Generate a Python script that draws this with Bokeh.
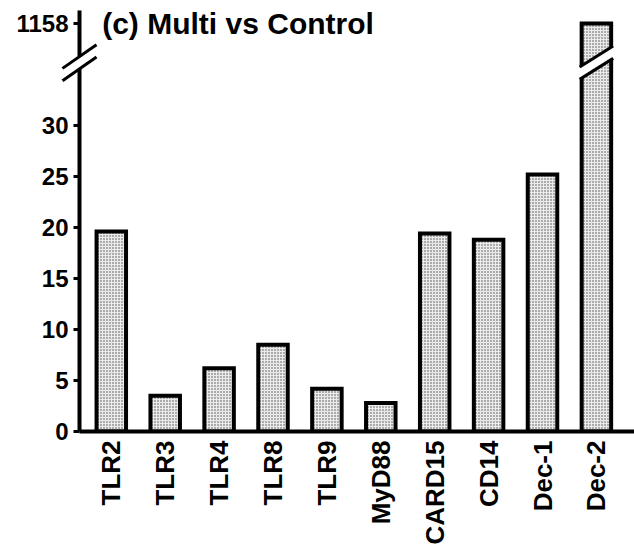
import math
from bokeh.plotting import figure
from bokeh.models import FixedTicker, Label, Range1d
from bokeh.embed import file_html
from bokeh.resources import INLINE

# ---- data ----
genes = ["TLR2", "TLR3", "TLR4", "TLR8", "TLR9", "MyD88", "CARD15", "CD14", "Dec-1", "Dec-2"]
fold_change = [19.6, 3.5, 6.2, 8.5, 4.2, 2.8, 19.4, 18.8, 25.2, 1158]
lower_ticks = [0, 5, 10, 15, 20, 25, 30]
upper_ticks = [1158]
title_text = "(c) Multi vs Control"

# ---- broken-axis mapping (value -> display coordinate) ----
LOWER_MAX = 35.5
UPPER_BASE = 40.0
UPPER_SCALE = 0.01


def to_display(v):
    if v <= LOWER_MAX:
        return v
    return UPPER_BASE + (v - upper_ticks[0]) * UPPER_SCALE


# ---- layout ----
W, H = 634, 547
LEFT, BOTTOM = 79, 114
frame_w, frame_h = W - LEFT, H - BOTTOM
PX_X, PX_Y = 53.9, 10.25
x_start = -31.8 / PX_X
x_end = x_start + frame_w / PX_X
y_start, y_end = 0.0, frame_h / PX_Y


def fx(px):
    return x_start + (px - LEFT) / PX_X


def fy(py):
    return (frame_h - py) / PX_Y


p = figure(width=W, height=H, output_backend="svg", toolbar_location=None,
           x_range=Range1d(x_start, x_end), y_range=Range1d(y_start, y_end),
           min_border_left=LEFT, min_border_bottom=BOTTOM, min_border_top=0,
           min_border_right=0)
p.outline_line_color = None
p.grid.grid_line_color = None
p.background_fill_color = "white"

xs = list(range(len(genes)))
tops = [to_display(v) for v in fold_change]
bar_w = 29.5 / PX_X
p.vbar(x=xs, top=tops, bottom=0, width=bar_w, fill_color="#ebebeb",
       line_color="black", line_width=4, line_join="miter",
       hatch_pattern="dot", hatch_color="#4a4a4a", hatch_scale=3, hatch_weight=1)

# ---- y axis ----
yticks = lower_ticks + [to_display(t) for t in upper_ticks]
p.yaxis.ticker = FixedTicker(ticks=yticks)
p.yaxis.major_label_overrides = {to_display(t): str(t) for t in upper_ticks}
p.yaxis.axis_line_color = None
p.yaxis.major_tick_line_width = 3
p.yaxis.major_tick_line_color = "black"
p.yaxis.major_tick_out = 6
p.yaxis.major_tick_in = 0
p.yaxis.minor_tick_line_color = None
p.yaxis.major_label_standoff = 5
p.yaxis.major_label_text_font = "Liberation Sans"
p.yaxis.major_label_text_font_style = "bold"
p.yaxis.major_label_text_font_size = "24px"
p.yaxis.major_label_text_color = "black"

# ---- x axis ----
p.xaxis.ticker = FixedTicker(ticks=xs)
p.xaxis.major_label_overrides = {i: g for i, g in zip(xs, genes)}
p.xaxis.axis_line_color = None
p.xaxis.major_tick_line_color = None
p.xaxis.major_tick_out = 0
p.xaxis.major_tick_in = 0
p.xaxis.minor_tick_line_color = None
p.xaxis.major_label_orientation = math.pi / 2
p.xaxis.major_label_standoff = 9
p.xaxis.major_label_text_font = "Liberation Sans"
p.xaxis.major_label_text_font_style = "bold"
p.xaxis.major_label_text_font_size = "26px"
p.xaxis.major_label_text_color = "black"

# ---- drawn axis lines with break ----
BREAK_D = fy(62.5)
HALF = 6.2 / PX_Y
AXIS_TOP = fy(10)
p.segment(x0=[x_start, x_start], y0=[0, BREAK_D + HALF],
          x1=[x_start, x_start], y1=[BREAK_D - HALF, AXIS_TOP],
          line_color="black", line_width=4, level="overlay")
p.segment(x0=[x_start], y0=[0], x1=[x_end], y1=[0],
          line_color="black", line_width=4, level="overlay")

# axis break marks
s_ax = 0.70 * PX_X / PX_Y
ext = 17 / PX_X
for off in (HALF, -HALF):
    p.line(x=[x_start - ext, x_start + ext],
           y=[BREAK_D + off - s_ax * ext, BREAK_D + off + s_ax * ext],
           line_color="black", line_width=3, level="overlay")

# bar break on the broken bar(s)
s_bar = 0.63 * PX_X / PX_Y
hw = (bar_w * PX_X / 2 + 2) / PX_X
e = 1.5 / PX_X
for xi, v in zip(xs, fold_change):
    if v > LOWER_MAX:
        xl, xr = xi - hw - e, xi + hw + e
        p.patch(x=[xl, xr, xr, xl],
                y=[BREAK_D - HALF + s_bar * (xl - xi), BREAK_D - HALF + s_bar * (xr - xi),
                   BREAK_D + HALF + s_bar * (xr - xi), BREAK_D + HALF + s_bar * (xl - xi)],
                fill_color="white", line_color=None, level="overlay")
        for off in (HALF, -HALF):
            p.line(x=[xi - hw, xi + hw],
                   y=[BREAK_D + off - s_bar * hw, BREAK_D + off + s_bar * hw],
                   line_color="black", line_width=3, level="overlay")

# ---- title ----
p.add_layout(Label(x=fx(101.7), y=fy(23), text=title_text,
                   text_font="Liberation Sans", text_font_style="bold",
                   text_font_size="30px", text_color="black",
                   text_baseline="alphabetic", level="overlay"))

open("out.html", "w").write(file_html(p, INLINE))
